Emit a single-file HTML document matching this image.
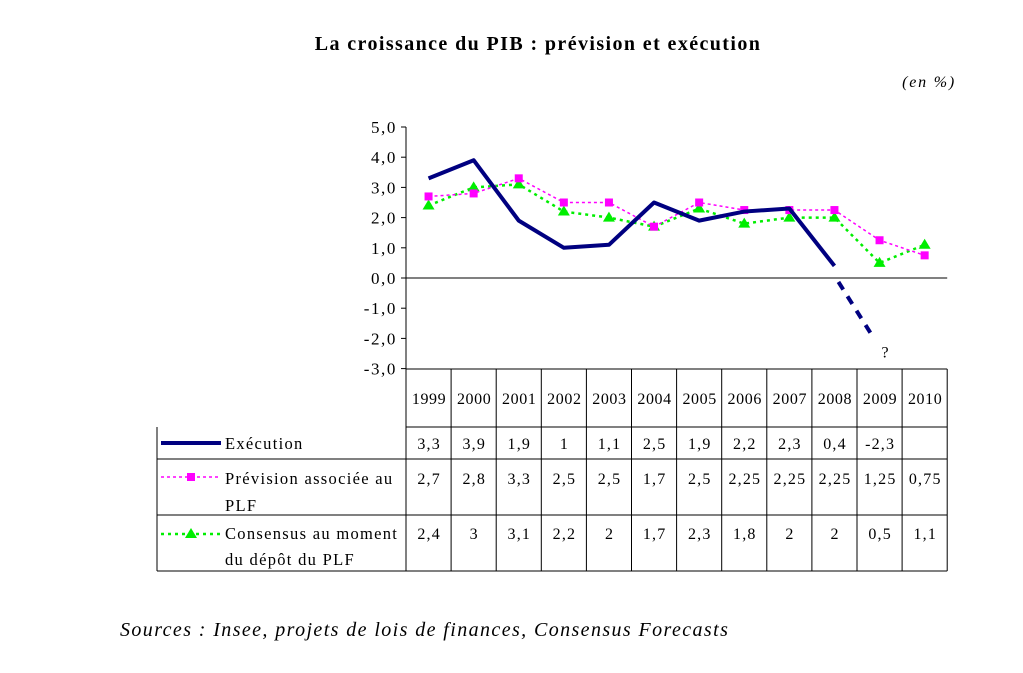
<!DOCTYPE html>
<html><head><meta charset="utf-8">
<style>
body{margin:0;background:#fff;font-family:"Liberation Serif",serif;}
svg text{font-family:"Liberation Serif",serif;letter-spacing:1.2px;}
</style></head>
<body>
<svg width="1023" height="668" viewBox="0 0 1023 668">
<text x="538" y="50" text-anchor="middle" font-size="20" font-weight="bold" style="letter-spacing:1.4px">La croissance du PIB : prévision et exécution</text>
<text x="956" y="87" text-anchor="end" font-size="16" font-style="italic" style="letter-spacing:1.8px">(en %)</text>
<text x="120" y="636" font-size="20" font-style="italic" style="letter-spacing:1.4px">Sources : Insee, projets de lois de finances, Consensus Forecasts</text>
<g id="axes"></g>
<g id="marks"></g>
<g id="table"></g>
</svg>
<script>
const years=["1999","2000","2001","2002","2003","2004","2005","2006","2007","2008","2009","2010"];
const execution=[3.3,3.9,1.9,1,1.1,2.5,1.9,2.2,2.3,0.4,-2.3,null];
const prevision=[2.7,2.8,3.3,2.5,2.5,1.7,2.5,2.25,2.25,2.25,1.25,0.75];
const consensus=[2.4,3,3.1,2.2,2,1.7,2.3,1.8,2,2,0.5,1.1];
const yTicks=[5,4,3,2,1,0,-1,-2,-3];

const NS="http://www.w3.org/2000/svg";
const X0=406,CW=45.1,Y0=278,UY=30.2;
const xs=i=>X0+CW*(i+0.5);
const ys=v=>Y0-v*UY;
function mk(tag,attrs,parent){const e=document.createElementNS(NS,tag);for(const k in attrs)e.setAttribute(k,attrs[k]);parent.appendChild(e);return e;}
const fmt=v=>String(v).replace('.',',');
const axes=document.getElementById('axes'),marks=document.getElementById('marks'),table=document.getElementById('table');
const X1=X0+CW*years.length;

let yax=mk('line',{x1:X0,x2:X0,y1:ys(5),y2:ys(-3),stroke:'#000','stroke-width':1},axes);


let xax=mk('line',{x1:X0,x2:X1,y1:ys(0),y2:ys(0),stroke:'#000','stroke-width':1},axes);


yTicks.forEach(t=>{
  let tk=mk('line',{x1:X0-5,x2:X0,y1:ys(t),y2:ys(t),stroke:'#000'},axes);
  
  
  let tx=mk('text',{x:X0-9,y:ys(t)+6,'text-anchor':'end','font-size':17,style:'letter-spacing:1.6px'},axes);
  tx.textContent=t.toFixed(1).replace('.',',');
  
  
});

function pts(arr,from,to){let p=[];for(let i=from;i<=to;i++)if(arr[i]!=null)p.push(xs(i)+','+ys(arr[i]));return p.join(' ');}
let cl=mk('polyline',{points:pts(consensus,0,11),fill:'none',stroke:'#00ee00','stroke-width':2.5,'stroke-dasharray':'3,4'},marks);


consensus.forEach((v,i)=>{const x=xs(i),y=ys(v);
  let m=mk('polygon',{points:`${x},${y-6} ${x-6},${y+4} ${x+6},${y+4}`,fill:'#00ee00'},marks);
  
  });
let pl=mk('polyline',{points:pts(prevision,0,11),fill:'none',stroke:'#ff00ff','stroke-width':1.5,'stroke-dasharray':'3,3'},marks);


prevision.forEach((v,i)=>{
  let m=mk('rect',{x:xs(i)-4,y:ys(v)-4,width:8,height:8,fill:'#ff00ff'},marks);
  
  });
let el=mk('polyline',{points:pts(execution,0,9),fill:'none',stroke:'#000080','stroke-width':4,'stroke-linejoin':'round'},marks);


let ed=mk('line',{x1:xs(9)+4,y1:ys(execution[9])+16,x2:xs(10)-5,y2:ys(execution[10])-8,stroke:'#000080','stroke-width':4,'stroke-dasharray':'9,8'},marks);


let q=mk('text',{x:xs(10)+2,y:ys(execution[10])+10,'font-size':16},marks);q.textContent='?';



const rows=[[369,427],[427,459],[459,515],[515,571]];
const TL=157;
function ln(x1,y1,x2,y2){let l=mk('line',{x1,y1,x2,y2,stroke:'#000','stroke-width':1},table);
  
  }
ln(X0,369,X1,369);
for(let r=0;r<4;r++) ln(r==0?X0:TL,rows[r][1],X1,rows[r][1]);
ln(TL,427,TL,571);
for(let c=0;c<=years.length;c++) ln(X0+CW*c,369,X0+CW*c,571);
years.forEach((y,i)=>{let t=mk('text',{x:xs(i)+0.5,y:404,'text-anchor':'middle','font-size':16,style:'letter-spacing:0.6px'},table);t.textContent=y;
  
  });
const series=[execution,prevision,consensus],ry=[449,484,539];
series.forEach((s,r)=>s.forEach((v,i)=>{if(v==null)return;
  let t=mk('text',{x:xs(i)+0.6,y:ry[r],'text-anchor':'middle','font-size':16},table);t.textContent=fmt(v);
  
  }));
let k1=mk('line',{x1:161,x2:221,y1:443,y2:443,stroke:'#000080','stroke-width':4},table);


let k2=mk('line',{x1:161,x2:221,y1:477,y2:477,stroke:'#ff00ff','stroke-width':1.5,'stroke-dasharray':'3,3'},table);


mk('rect',{x:187,y:473,width:8,height:8,fill:'#ff00ff'},table);
let k3=mk('line',{x1:161,x2:221,y1:534,y2:534,stroke:'#00ee00','stroke-width':2.5,'stroke-dasharray':'3,4'},table);


mk('polygon',{points:'191,528 185,538 197,538',fill:'#00ee00'},table);
const labs=[[449,'Exécution'],[484,'Prévision associée au'],[511,'PLF'],[539,'Consensus au moment'],[565,'du dépôt du PLF']];
labs.forEach(([y,s])=>{let t=mk('text',{x:225,y,'font-size':16.5,style:'letter-spacing:1.3px'},table);t.textContent=s;
  
  });
</script>
</body></html>
